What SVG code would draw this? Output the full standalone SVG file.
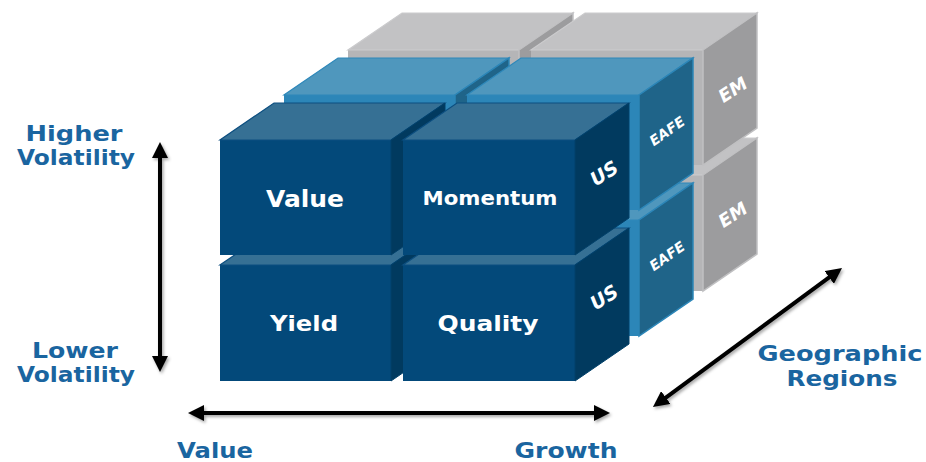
<svg xmlns="http://www.w3.org/2000/svg" width="926" height="462" viewBox="0 0 926 462">
<defs>
<style>
.usf{fill:#03497a}
.ust{fill:#367094;stroke:#0d4f80;stroke-width:1.2}
.uss{fill:#013a5f;stroke:#02416b;stroke-width:1}
.eaf{fill:#2c86b8}
.eat{fill:#4f97bd;stroke:#2e88ba;stroke-width:1.2}
.eas{fill:#1f6489;stroke:#2c86b8;stroke-width:1.5}
.emf{fill:#b5b5b7}
.emt{fill:#c2c2c4;stroke:#cbcbcd;stroke-width:1.2}
.ems{fill:#9c9c9e;stroke:#c0c0c2;stroke-width:1.5}
.lbl{font-family:"DejaVu Sans","Liberation Sans",sans-serif;font-weight:bold;fill:#ffffff;text-anchor:middle}
.side{font-family:"DejaVu Sans","Liberation Sans",sans-serif;font-weight:bold;font-style:italic;fill:#ffffff;text-anchor:middle}
.ax{font-family:"DejaVu Sans","Liberation Sans",sans-serif;font-weight:bold;fill:#1a65a0;text-anchor:middle}
.arr{stroke:#000;stroke-width:4;fill:none;marker-start:url(#ah);marker-end:url(#ah)}
</style>
<marker id="ah" markerUnits="userSpaceOnUse" viewBox="0 0 16 16" markerWidth="16" markerHeight="16" refX="8" refY="8" orient="auto-start-reverse">
<path d="M0,0 L16,8 L0,16 z" fill="#000"/>
</marker>
<filter id="sh" filterUnits="userSpaceOnUse" x="0" y="0" width="926" height="462">
<feDropShadow dx="1.5" dy="2" stdDeviation="1.5" flood-color="#000" flood-opacity="0.35"/>
</filter>
</defs>
<rect width="926" height="462" fill="#fff"/>

<!-- EM layer (back) -->
<g id="em-bottom-left">
<rect class="emf" x="348" y="175" width="171" height="116"/>
<polygon class="emt" points="348,175 519,175 573,138 402,138"/>
<polygon class="ems" points="519,175 573,138 573,254 519,291"/>
</g>
<g id="em-bottom-right">
<rect class="emf" x="531" y="175" width="172" height="116"/>
<polygon class="emt" points="531,175 703,175 757,138 585,138"/>
<polygon class="ems" points="703,175 757,138 757,254 703,291"/>
<text class="side" font-size="18" transform="translate(733,215) rotate(-33)" y="6">EM</text>
</g>
<g id="em-top-left">
<rect class="emf" x="348" y="50" width="171" height="115"/>
<polygon class="emt" points="348,50 519,50 573,13 402,13"/>
<polygon class="ems" points="519,50 573,13 573,128 519,165"/>
</g>
<g id="em-top-right">
<rect class="emf" x="531" y="50" width="172" height="115"/>
<polygon class="emt" points="531,50 703,50 757,13 585,13"/>
<polygon class="ems" points="703,50 757,13 757,128 703,165"/>
<text class="side" font-size="18" transform="translate(733,90) rotate(-33)" y="6">EM</text>
</g>

<!-- EAFE layer (middle) -->
<g id="eafe-bottom-left">
<rect class="eaf" x="284" y="220" width="171" height="116"/>
<polygon class="eat" points="284,220 455,220 509,183 338,183"/>
<polygon class="eas" points="455,220 509,183 509,299 455,336"/>
</g>
<g id="eafe-bottom-right">
<rect class="eaf" x="467" y="220" width="172" height="116"/>
<polygon class="eat" points="467,220 639,220 693,183 521,183"/>
<polygon class="eas" points="639,220 693,183 693,299 639,336"/>
<text class="side" font-size="14" transform="translate(667,256) rotate(-35)" y="5">EAFE</text>
</g>
<g id="eafe-top-left">
<rect class="eaf" x="284" y="95" width="171" height="115"/>
<polygon class="eat" points="284,95 455,95 509,58 338,58"/>
<polygon class="eas" points="455,95 509,58 509,173 455,210"/>
</g>
<g id="eafe-top-right">
<rect class="eaf" x="467" y="95" width="172" height="115"/>
<polygon class="eat" points="467,95 639,95 693,58 521,58"/>
<polygon class="eas" points="639,95 693,58 693,173 639,210"/>
<text class="side" font-size="14" transform="translate(667,131) rotate(-35)" y="5">EAFE</text>
</g>

<!-- US layer (front) -->
<g id="us-yield">
<rect class="usf" x="220" y="265" width="171" height="116"/>
<polygon class="ust" points="220,265 391,265 445,228 274,228"/>
<polygon class="uss" points="391,265 445,228 445,344 391,381"/>
<text class="lbl" x="304" y="331" font-size="22" textLength="68" lengthAdjust="spacingAndGlyphs">Yield</text>
</g>
<g id="us-quality">
<rect class="usf" x="403" y="265" width="172" height="116"/>
<polygon class="ust" points="403,265 575,265 629,228 457,228"/>
<polygon class="uss" points="575,265 629,228 629,344 575,381"/>
<text class="lbl" x="488" y="331" font-size="22" textLength="101" lengthAdjust="spacingAndGlyphs">Quality</text>
<text class="side" font-size="19" transform="translate(604,297) rotate(-33)" y="7">US</text>
</g>
<g id="us-value">
<rect class="usf" x="220" y="140" width="171" height="115"/>
<polygon class="ust" points="220,140 391,140 445,103 274,103"/>
<polygon class="uss" points="391,140 445,103 445,218 391,255"/>
<text class="lbl" x="305" y="207" font-size="23" textLength="78" lengthAdjust="spacingAndGlyphs">Value</text>
</g>
<g id="us-momentum">
<rect class="usf" x="403" y="140" width="172" height="115"/>
<polygon class="ust" points="403,140 575,140 629,103 457,103"/>
<polygon class="uss" points="575,140 629,103 629,218 575,255"/>
<text class="lbl" x="490" y="205" font-size="19" textLength="135" lengthAdjust="spacingAndGlyphs">Momentum</text>
<text class="side" font-size="19" transform="translate(604,173) rotate(-33)" y="7">US</text>
</g>

<!-- connectors -->
<g id="connectors" filter="url(#sh)">
<line class="arr" x1="160" y1="150" x2="160" y2="364"/>
<line class="arr" x1="196" y1="413" x2="602" y2="413"/>
<line class="arr" x1="659.4" y1="402.3" x2="835.6" y2="272.7"/>
</g>

<!-- axis labels -->
<g id="labels">
<text class="ax" x="74" y="141" font-size="22" textLength="97" lengthAdjust="spacingAndGlyphs">Higher</text>
<text class="ax" x="76" y="165" font-size="22" textLength="118" lengthAdjust="spacingAndGlyphs">Volatility</text>
<text class="ax" x="75" y="358" font-size="22" textLength="86" lengthAdjust="spacingAndGlyphs">Lower</text>
<text class="ax" x="76" y="382" font-size="22" textLength="118" lengthAdjust="spacingAndGlyphs">Volatility</text>
<text class="ax" x="215" y="458" font-size="22" textLength="76" lengthAdjust="spacingAndGlyphs">Value</text>
<text class="ax" x="566" y="458" font-size="22" textLength="103" lengthAdjust="spacingAndGlyphs">Growth</text>
<text class="ax" x="840" y="361" font-size="22" textLength="165" lengthAdjust="spacingAndGlyphs">Geographic</text>
<text class="ax" x="842" y="386" font-size="22" textLength="111" lengthAdjust="spacingAndGlyphs">Regions</text>
</g>
</svg>
